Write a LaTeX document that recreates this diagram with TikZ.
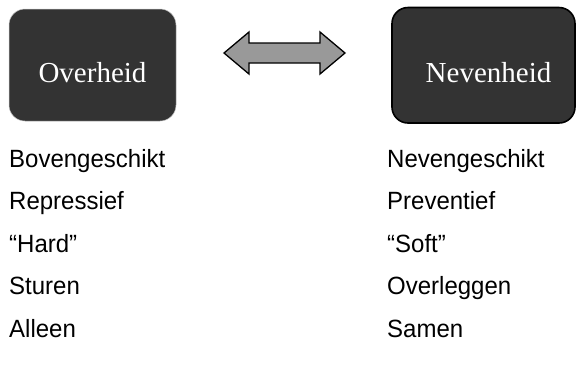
\documentclass[tikz,border=0pt]{standalone}
\usepackage{fontspec}
\setmainfont{Liberation Serif}
\newfontfamily\arialfont{Liberation Sans}
\definecolor{boxfill}{HTML}{333333}
\definecolor{arrowfill}{HTML}{999999}
\newcommand\tallword[1]{\scalebox{1}[1.04]{#1}}
\begin{document}
\begin{tikzpicture}[x=1pt,y=-1pt,
  darkbox/.style={fill=boxfill, rounded corners=16pt},
  boxtext/.style={text=white, font=\fontsize{29}{31}\selectfont, anchor=base},
  item/.style={font=\arialfont\fontsize{24}{26}\selectfont, anchor=base west, inner sep=0pt}]
\useasboundingbox (0,0) rectangle (576,368);

% the two rounded boxes
\path[darkbox, draw=black!25, line width=0.5pt] (9,9) rectangle (176,121);
\path[darkbox, draw=black, line width=1.6pt] (392,7.5) rectangle (575,123);
\node[boxtext] (over) at (92.5,82.5) {Overheid};
\node[boxtext] (neven) at (488.5,82.5) {Nevenheid};

% double-headed block arrow between them
\draw[fill=arrowfill, draw=black, line width=1.3pt, line join=miter]
  (224,53) -- (249,32) -- (249,43) -- (320,43) -- (320,32) -- (345,53)
  -- (320,74) -- (320,63) -- (249,63) -- (249,74) -- cycle;

% left column
\node[item] (l1) at (9,167) {\tallword{Bovengeschikt}};
\node[item] (l2) at (9,209.5) {\tallword{Repressief}};
\node[item] (l3) at (9,252) {\tallword{“Hard”}};
\node[item] (l4) at (9,294.5) {\tallword{Sturen}};
\node[item] (l5) at (9,337) {\tallword{Alleen}};

% right column
\node[item] (r1) at (387,167) {\tallword{Nevengeschikt}};
\node[item] (r2) at (387,209.5) {\tallword{Preventief}};
\node[item] (r3) at (387,252) {\tallword{“Soft”}};
\node[item] (r4) at (387,294.5) {\tallword{Overleggen}};
\node[item] (r5) at (387,337) {\tallword{Samen}};
\end{tikzpicture}
\end{document}
